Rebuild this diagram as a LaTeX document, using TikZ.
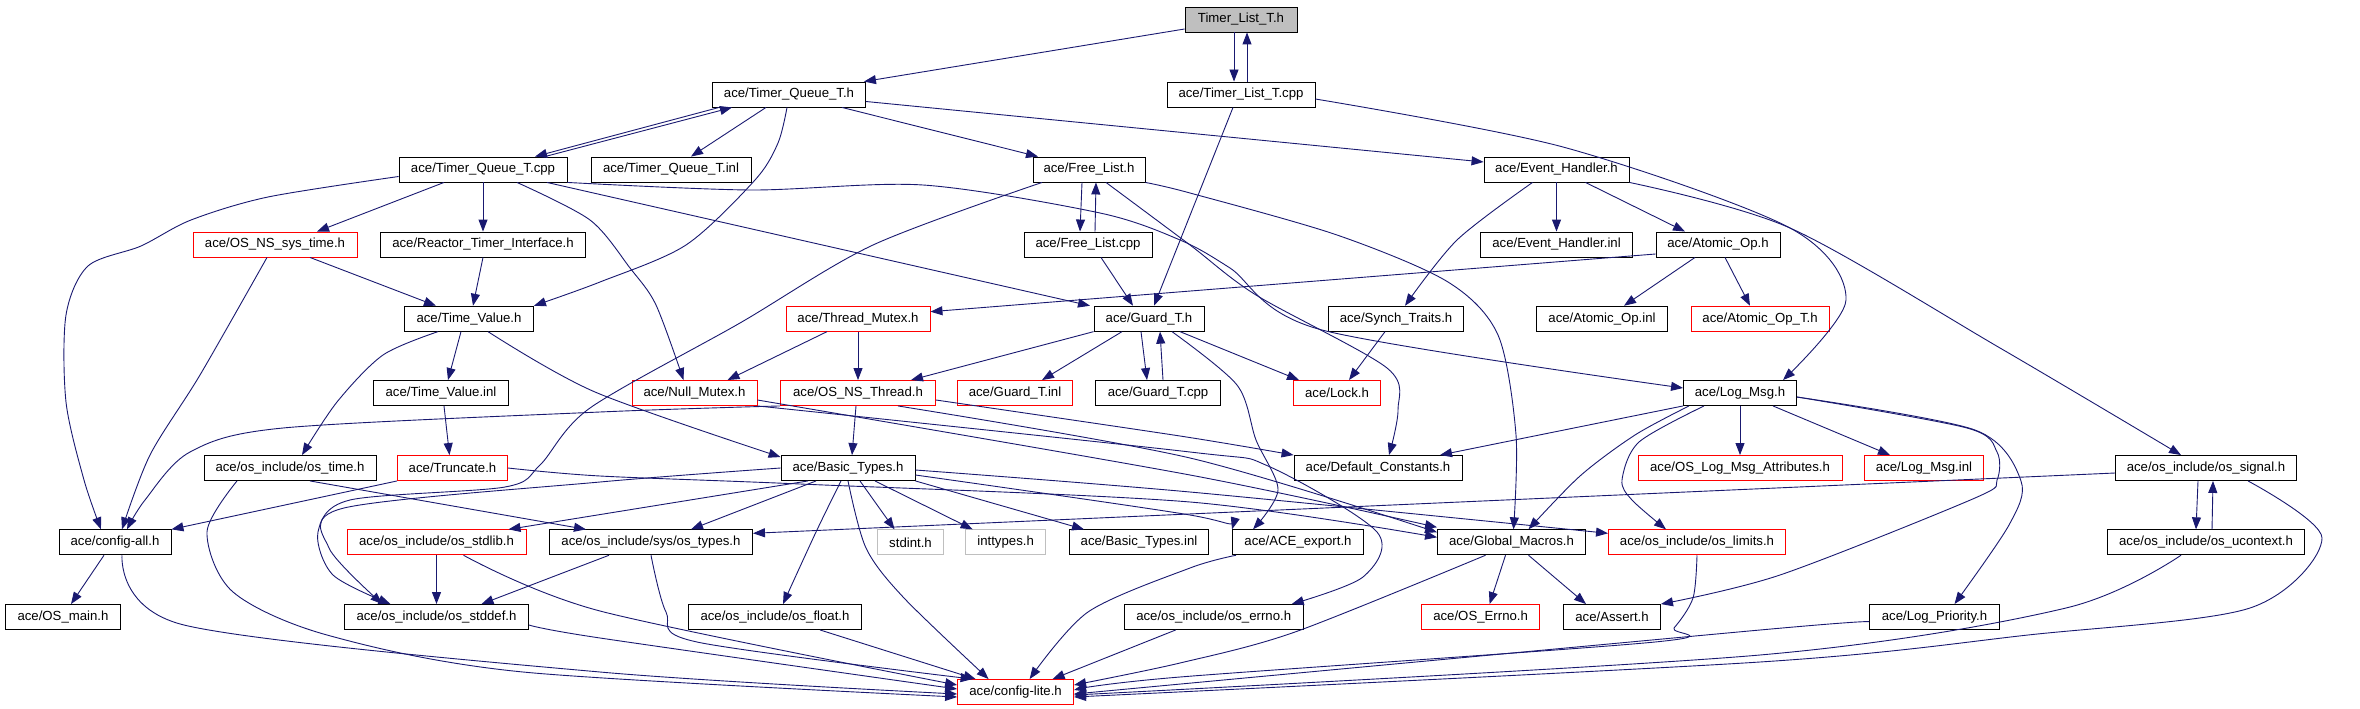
\documentclass[tikz,border=0pt]{standalone}
\usepackage{fontspec}
\newfontfamily\dox{Liberation Sans}
\usetikzlibrary{arrows.meta}
\definecolor{edgec}{RGB}{25,25,112}
\definecolor{rootfill}{RGB}{191,191,191}
\definecolor{lgray}{RGB}{191,191,191}
\begin{document}
\begin{tikzpicture}[x=1pt,y=-1pt,
 box/.style={draw=black,line width=0.9pt,minimum height=25pt,inner sep=0pt,font=\dox\fontsize{13.2}{15}\selectfont},
 rbox/.style={box,draw=red},
 gbox/.style={box,draw=lgray},
 e/.style={draw=edgec,line width=0.9pt,-{Triangle[length=12pt,width=9pt]}}]
\useasboundingbox (0,0) rectangle (2360,709);
% row0
\node[box,fill=rootfill,minimum width=112pt] (n0) at (1241,19.5) {Timer\_List\_T.h};
% row1
\node[box,minimum width=153pt] (tqh) at (789,94.5) {ace/Timer\_Queue\_T.h};
\node[box,minimum width=148pt] (tlcpp) at (1241,94.5) {ace/Timer\_List\_T.cpp};
% row2
\node[box,minimum width=168pt] (tqcpp) at (483,169.5) {ace/Timer\_Queue\_T.cpp};
\node[box,minimum width=160pt] (tqinl) at (671,169.5) {ace/Timer\_Queue\_T.inl};
\node[box,minimum width=112pt] (flh) at (1089,169.5) {ace/Free\_List.h};
\node[box,minimum width=145pt] (ehh) at (1556.5,169.5) {ace/Event\_Handler.h};
% row3
\node[rbox,minimum width=164pt] (ossys) at (275,244.5) {ace/OS\_NS\_sys\_time.h};
\node[box,minimum width=205pt] (rti) at (483,244.5) {ace/Reactor\_Timer\_Interface.h};
\node[box,minimum width=128pt] (flcpp) at (1088,244.5) {ace/Free\_List.cpp};
\node[box,minimum width=152pt] (ehinl) at (1556.5,244.5) {ace/Event\_Handler.inl};
\node[box,minimum width=124pt] (aoh) at (1718,244.5) {ace/Atomic\_Op.h};
% row4
\node[box,minimum width=129pt] (tvh) at (469,318.7) {ace/Time\_Value.h};
\node[rbox,minimum width=144pt] (tmh) at (858,318.7) {ace/Thread\_Mutex.h};
\node[box,minimum width=110pt] (gth) at (1149,318.7) {ace/Guard\_T.h};
\node[box,minimum width=135pt] (sth) at (1396,318.7) {ace/Synch\_Traits.h};
\node[box,minimum width=131pt] (aoinl) at (1602,318.7) {ace/Atomic\_Op.inl};
\node[rbox,minimum width=138pt] (aoth) at (1760,318.7) {ace/Atomic\_Op\_T.h};
% row5
\node[box,minimum width=135pt] (tvinl) at (441,393) {ace/Time\_Value.inl};
\node[rbox,minimum width=125pt] (nmh) at (694.5,393) {ace/Null\_Mutex.h};
\node[rbox,minimum width=155pt] (osth) at (858,393) {ace/OS\_NS\_Thread.h};
\node[rbox,minimum width=115pt] (gtinl) at (1015,393) {ace/Guard\_T.inl};
\node[box,minimum width=124.5pt] (gtcpp) at (1158,393) {ace/Guard\_T.cpp};
\node[rbox,minimum width=87pt] (lockh) at (1337,393) {ace/Lock.h};
\node[box,minimum width=113pt] (lmh) at (1740,393) {ace/Log\_Msg.h};
% row6
\node[box,minimum width=172pt] (ostime) at (290,468) {ace/os\_include/os\_time.h};
\node[rbox,minimum width=110pt] (trh) at (452.5,468) {ace/Truncate.h};
\node[box,minimum width=134pt] (bth) at (848,468) {ace/Basic\_Types.h};
\node[box,minimum width=168pt] (dch) at (1378,468) {ace/Default\_Constants.h};
\node[rbox,minimum width=204pt] (olma) at (1740,468) {ace/OS\_Log\_Msg\_Attributes.h};
\node[rbox,minimum width=119pt] (lminl) at (1924,468) {ace/Log\_Msg.inl};
\node[box,minimum width=181pt] (ossig) at (2206,468) {ace/os\_include/os\_signal.h};
% row7
\node[box,minimum width=112pt] (cfga) at (115,542.3) {ace/config-all.h};
\node[rbox,minimum width=179pt] (osstdlib) at (436.5,542.3) {ace/os\_include/os\_stdlib.h};
\node[box,minimum width=203pt] (ostypes) at (651,542.3) {ace/os\_include/sys/os\_types.h};
\node[gbox,minimum width=66pt] (stdint) at (910.5,542.3) {stdint.h};
\node[gbox,minimum width=80pt] (inttypes) at (1005.6,542.3) {inttypes.h};
\node[box,minimum width=139pt] (btinl) at (1139,542.3) {ace/Basic\_Types.inl};
\node[box,minimum width=131pt] (acee) at (1298,542.3) {ace/ACE\_export.h};
\node[box,minimum width=148pt] (gmh) at (1511.5,542.3) {ace/Global\_Macros.h};
\node[rbox,minimum width=177pt] (oslim) at (1697,542.3) {ace/os\_include/os\_limits.h};
\node[box,minimum width=197pt] (osuctx) at (2206,542.3) {ace/os\_include/os\_ucontext.h};
% row8
\node[box,minimum width=115pt] (osmain) at (63,617) {ace/OS\_main.h};
\node[box,minimum width=184pt] (osstddef) at (436.5,617) {ace/os\_include/os\_stddef.h};
\node[box,minimum width=173pt] (osfloat) at (775,617) {ace/os\_include/os\_float.h};
\node[box,minimum width=179pt] (oserrno) at (1213.7,617) {ace/os\_include/os\_errno.h};
\node[rbox,minimum width=118pt] (oserr) at (1480.6,617) {ace/OS\_Errno.h};
\node[box,minimum width=97pt] (assert) at (1612,617) {ace/Assert.h};
\node[box,minimum width=130pt] (logpri) at (1934.5,617) {ace/Log\_Priority.h};
% row9
\node[rbox,minimum width=116pt] (cfgl) at (1015.6,692) {ace/config-lite.h};

% edges
\draw[e] ([yshift=-9.5pt]n0.west) -- ([xshift=-2pt]tqh.north east);
\draw[e] ([xshift=-7pt]n0.south) -- ([xshift=-7pt]tlcpp.north);
\draw[e] ([xshift=6pt]tlcpp.north) -- ([xshift=6pt]n0.south);
\draw[e] ([xshift=-8pt]tlcpp.south) -- ([xshift=5pt]gth.north);
\draw[e] plot[smooth] coordinates {([yshift=-4.5pt]tlcpp.east) (1563,147) (1790,228) (1846,300) ([xshift=43pt]lmh.north)};
\draw[e] ([xshift=-70pt]tqh.south) -- ([xshift=52pt]tqcpp.north);
\draw[e] ([xshift=62pt]tqcpp.north) -- ([xshift=-57pt]tqh.south);
\draw[e] ([xshift=-23pt]tqh.south) -- ([xshift=20pt]tqinl.north);
\draw[e] ([xshift=53pt]tqh.south) -- ([xshift=-51pt]flh.north);
\draw[e] ([yshift=-7pt]tqh.east) -- ([yshift=7.5pt]ehh.west);
\draw[e] plot[smooth] coordinates {([xshift=-2pt]tqh.south) (778,143) (755,180) (686,245) (600,282) (tvh.north east)};
\draw[e] plot[smooth] coordinates {([yshift=-7pt]tqcpp.west) (268,197) (191,220) (141,246) (88,266) (66,315) (66,402) (84,480) ([xshift=-14pt]cfga.north)};
\draw[e] ([xshift=-39pt]tqcpp.south) -- ([xshift=42pt]ossys.north);
\draw[e] (tqcpp.south) -- (rti.north);
\draw[e] plot[smooth] coordinates {([xshift=34pt]tqcpp.south) (590,220) (630,268) (656,305) ([xshift=-11pt]nmh.north)};
\draw[e] ([xshift=64pt]tqcpp.south) -- ([xshift=-59pt]gth.north);
\draw[e] plot[smooth] coordinates {(tqcpp.south east) (750,190) (923,185) (1100,213) (1180,240) (1230,268) (1322,330) ([yshift=5pt]lmh.west)};
\draw[e] ([xshift=35pt]ossys.south) -- ([xshift=-33pt]tvh.north);
\draw[e] plot[smooth] coordinates {([xshift=-8pt]ossys.south) (200,375) (150,455) ([xshift=7pt]cfga.north)};
\draw[e] (rti.south) -- ([xshift=4pt]tvh.north);
\draw[e] ([xshift=-7pt]flh.south) -- ([xshift=-8pt]flcpp.north);
\draw[e] ([xshift=7pt]flcpp.north) -- ([xshift=7pt]flh.south);
\draw[e] ([xshift=13pt]flcpp.south) -- ([xshift=-16pt]gth.north);
\draw[e] plot[smooth] coordinates {([xshift=-47pt]flh.south) (873,245) (740,323) (590,408) (540,465) (505,487) (350,500) (318,532) (333,575) ([xshift=-46pt]osstddef.north)};
\draw[e] plot[smooth] coordinates {(flh.south east) (1190,193) (1337,235) (1448,282) (1498,335) (1516,435) ([xshift=2pt]gmh.north)};
\draw[e] plot[smooth] coordinates {([xshift=17pt]flh.south) (1190,245) (1256,295) (1387,368) (1398,410) ([xshift=11pt]dch.north)};
\draw[e] (ehh.south) -- (ehinl.north);
\draw[e] ([xshift=29pt]ehh.south) -- ([xshift=-33pt]aoh.north);
\draw[e] plot[smooth] coordinates {([xshift=-24pt]ehh.south) (1457,240) ([xshift=9pt]sth.north)};
\draw[e] plot[smooth] coordinates {(ehh.south east) (1790,228) (2000,348) ([xshift=-25pt]ossig.north)};
\draw[e] ([xshift=-23pt]aoh.south) -- ([xshift=22pt]aoinl.north);
\draw[e] ([xshift=7pt]aoh.south) -- ([xshift=-10pt]aoth.north);
\draw[e] ([yshift=-9.5pt]aoh.west) -- ([yshift=7pt]tmh.east);
\draw[e] ([xshift=-8pt]tvh.south) -- ([xshift=7pt]tvinl.north);
\draw[e] plot[smooth] coordinates {([xshift=-31pt]tvh.south) (383,355) (337,402) ([xshift=12pt]ostime.north)};
\draw[e] plot[smooth] coordinates {([xshift=19pt]tvh.south) (595,392) ([yshift=-2pt]bth.north west)};
\draw[e] ([xshift=3pt]tvinl.south) -- ([xshift=-3pt]trh.north);
\draw[e] ([xshift=-31pt]tmh.south) -- ([xshift=33pt]nmh.north);
\draw[e] (tmh.south) -- (osth.north);
\draw[e] (gth.south west) -- ([xshift=53pt]osth.north);
\draw[e] ([xshift=-27pt]gth.south) -- ([xshift=27pt]gtinl.north);
\draw[e] ([xshift=-8pt]gth.south) -- ([xshift=-11pt]gtcpp.north);
\draw[e] ([xshift=5pt]gtcpp.north) -- ([xshift=11pt]gth.south);
\draw[e] ([xshift=31pt]gth.south) -- ([xshift=-38pt]lockh.north);
\draw[e] plot[smooth] coordinates {([xshift=23pt]gth.south) (1237,385) (1256,440) (1278,490) ([xshift=-45pt]acee.north)};
\draw[e] ([xshift=-11pt]sth.south) -- ([xshift=12pt]lockh.north);
\draw[e] plot[smooth] coordinates {(nmh.south east) (1190,452) (1268,466) (1377,532) (1363,577) ([xshift=78pt]oserrno.north)};
\draw[e] plot[smooth] coordinates {([yshift=-7pt]nmh.east) (1190,475) ([yshift=15pt]gmh.west)};
\draw[e] plot[smooth] coordinates {(osth.south west) (600,412) (283,428) (190,452) (145,500) ([xshift=12pt]cfga.north)};
\draw[e] plot[smooth] coordinates {([yshift=-7pt]osth.east) (1180,436) (dch.north west)};
\draw[e] ([xshift=-2pt]osth.south) -- ([xshift=4pt]bth.north);
\draw[e] plot[smooth] coordinates {([xshift=40pt]osth.south) (1190,458) ([yshift=10pt]gmh.west)};
\draw[e] plot[smooth] coordinates {(trh.east) (600,476) (800,484) (1190,502) ([yshift=5pt]gmh.west)};
\draw[e] ([xshift=-32pt]bth.south) -- ([xshift=40pt]ostypes.north);
\draw[e] plot[smooth] coordinates {([xshift=-7pt]bth.south) (816,532) ([xshift=8pt]osfloat.north)};
\draw[e] plot[smooth] coordinates {(bth.south) (866,548) (904,598) ([xshift=-27pt]cfgl.north)};
\draw[e] ([xshift=12pt]bth.south) -- ([xshift=-16pt]stdint.north);
\draw[e] ([xshift=27pt]bth.south) -- ([xshift=-33pt]inttypes.north);
\draw[e] (bth.south east) -- ([xshift=-55pt]btinl.north);
\draw[e] plot[smooth] coordinates {([yshift=-7pt]bth.east) (1190,515) (acee.north west)};
\draw[e] plot[smooth] coordinates {([yshift=-2pt]bth.east) (1190,492) ([yshift=9pt]oslim.west)};
\draw[e] ([xshift=-40pt]bth.south) -- ([xshift=72pt]osstdlib.north);
\draw[e] plot[smooth] coordinates {(bth.west) (600,482) (344,508) (329,548) ([xshift=-54pt]osstddef.north)};
\draw[e] ([xshift=20pt]ostime.south) -- ([xshift=-65pt]ostypes.north);
\draw[e] plot[smooth] coordinates {([xshift=-53pt]ostime.south) (207,532) (233,592) (327,635) (523,672) ([yshift=-5pt]cfgl.west)};
\draw[e] (trh.south west) -- (cfga.north east);
\draw[e] ([xshift=-11pt]cfga.south) -- ([xshift=8pt]osmain.north);
\draw[e] plot[smooth] coordinates {([xshift=7pt]cfga.south) (184,625) (600,672) ([yshift=-2pt]cfgl.west)};
\draw[e] (osstdlib.south) -- (osstddef.north);
\draw[e] plot[smooth] coordinates {([xshift=27pt]osstdlib.south) (600,611) ([yshift=7pt]cfgl.west)};
\draw[e] ([xshift=-42pt]ostypes.south) -- ([xshift=45pt]osstddef.north);
\draw[e] plot[smooth] coordinates {(ostypes.south) (666,612) (697,642) ([xshift=-43pt]cfgl.north)};
\draw[e] plot[smooth] coordinates {([yshift=-8pt]osstddef.east) (600,638) ([yshift=3pt]cfgl.west)};
\draw[e] ([xshift=45pt]osfloat.south) -- ([xshift=-40pt]cfgl.north);
\draw[e] ([xshift=-38pt]oserrno.south) -- ([xshift=37pt]cfgl.north);
\draw[e] plot[smooth] coordinates {([xshift=4pt]acee.south west) (1190,568) (1088,612) ([xshift=14pt]cfgl.north)};
\draw[e] plot[smooth] coordinates {([xshift=-26pt]gmh.south) (1295,632) (1180,663) ([yshift=7pt]cfgl.east)};
\draw[e] ([xshift=-6pt]gmh.south) -- ([xshift=9pt]oserr.north);
\draw[e] ([xshift=17pt]gmh.south) -- ([xshift=-26pt]assert.north);
\draw[e] plot[smooth] coordinates {(oslim.south) (1693,598) (1674,628) (1655,642) (1180,677) ([yshift=2pt]cfgl.east)};
\draw[e] (lmh.south west) -- ([xshift=62pt]dch.north);
\draw[e] (lmh.south) -- (olma.north);
\draw[e] ([xshift=33pt]lmh.south) -- ([xshift=-34pt]lminl.north);
\draw[e] plot[smooth] coordinates {([xshift=-51pt]lmh.south) (1635,435) (1580,476) ([xshift=17pt]gmh.north)};
\draw[e] plot[smooth] coordinates {([xshift=-36pt]lmh.south) (1639,442) (1622,480) (1632,500) ([xshift=-31pt]oslim.north)};
\draw[e] plot[smooth] coordinates {([yshift=-4pt]lmh.east) (1967,428) (1997,452) (1997,480) (1975,498) (1780,575) (assert.north east)};
\draw[e] plot[smooth] coordinates {([yshift=-4pt]lmh.east) (1975,430) (2021,481) (2009,525) ([xshift=20pt]logpri.north)};
\draw[e] plot[smooth] coordinates {([yshift=-4.7pt]logpri.west) (1760,630) ([yshift=-2pt]cfgl.east)};
\draw[e] ([xshift=-8pt]ossig.south) -- ([xshift=-10pt]osuctx.north);
\draw[e] ([xshift=6pt]osuctx.north) -- ([xshift=7pt]ossig.south);
\draw[e] plot[smooth] coordinates {([xshift=42pt]ossig.south) (2322,538) (2250,608) (2028,635) (1760,662) ([yshift=-5pt]cfgl.east)};
\draw[e] plot[smooth] coordinates {([xshift=-25pt]osuctx.south) (2066,608) (1760,655) ([yshift=-3pt]cfgl.east)};
\draw[e] ([yshift=-5pt]ossig.west) -- ([yshift=9pt]ostypes.east);
\end{tikzpicture}
\end{document}
